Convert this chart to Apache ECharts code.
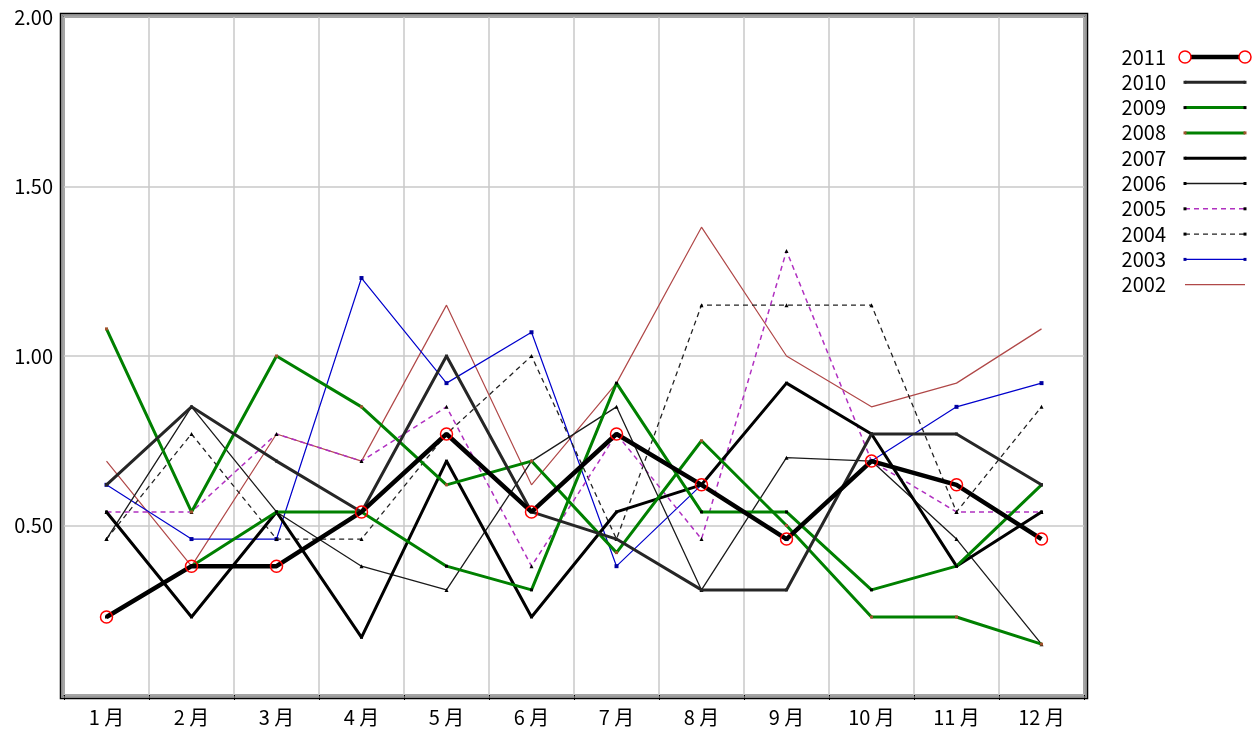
<!DOCTYPE html>
<html>
<head>
<meta charset="utf-8">
<script src="https://cdn.jsdelivr.net/npm/echarts@6/dist/echarts.min.js"></script>
<style>
html,body{margin:0;padding:0;background:#fff;}
#chart{width:1259px;height:735px;}
</style>
</head>
<body>
<div id="chart"></div>
<script>
const months = ['1月','2月','3月','4月','5月','6月','7月','8月','9月','10月','11月','12月'];
const yTicks = [0, 0.5, 1.0, 1.5, 2.0];

const d2011 = [0.23, 0.38, 0.38, 0.54, 0.77, 0.54, 0.77, 0.62, 0.46, 0.69, 0.62, 0.46];
const d2010 = [0.62, 0.85, 0.69, 0.54, 1.00, 0.54, 0.46, 0.31, 0.31, 0.77, 0.77, 0.62];
const d2009 = [0.23, 0.38, 0.54, 0.54, 0.38, 0.31, 0.92, 0.54, 0.54, 0.31, 0.38, 0.62];
const d2008 = [1.08, 0.54, 1.00, 0.85, 0.62, 0.69, 0.42, 0.75, 0.50, 0.23, 0.23, 0.15];
const d2007 = [0.54, 0.23, 0.54, 0.17, 0.69, 0.23, 0.54, 0.62, 0.92, 0.77, 0.38, 0.54];
const d2006 = [0.46, 0.85, 0.54, 0.38, 0.31, 0.69, 0.85, 0.31, 0.70, 0.69, 0.46, 0.15];
const d2005 = [0.54, 0.54, 0.77, 0.69, 0.85, 0.38, 0.77, 0.46, 1.31, 0.69, 0.54, 0.54];
const d2004 = [0.46, 0.77, 0.46, 0.46, 0.77, 1.00, 0.46, 1.15, 1.15, 1.15, 0.54, 0.85];
const d2003 = [0.62, 0.46, 0.46, 1.23, 0.92, 1.07, 0.38, 0.62, 0.46, 0.69, 0.85, 0.92];
const d2002 = [0.69, 0.38, 0.77, 0.69, 1.15, 0.62, 0.92, 1.38, 1.00, 0.85, 0.92, 1.08];

const FONT = '"Noto Sans CJK JP", "DejaVu Sans Mono", monospace';

const defs = [
  {name:'2011', data:d2011, color:'#000000', width:4.5, dash:'solid', symbol:'circle',   size:12, sym:'#ff0000', ring:true},
  {name:'2010', data:d2010, color:'#262626', width:3,   dash:'solid', symbol:'rect',     size:3,  sym:'#262626'},
  {name:'2009', data:d2009, color:'#008000', width:3,   dash:'solid', symbol:'rect',     size:3,  sym:'#000000'},
  {name:'2008', data:d2008, color:'#008000', width:3,   dash:'solid', symbol:'rect',     size:3,  sym:'#a0522d'},
  {name:'2007', data:d2007, color:'#000000', width:3,   dash:'solid', symbol:'rect',     size:3,  sym:'#000000'},
  {name:'2006', data:d2006, color:'#1a1a1a', width:1.3, dash:'solid', symbol:'triangle', size:4,  sym:'#000000'},
  {name:'2005', data:d2005, color:'#b030c0', width:1.5, dash:[5,4],   symbol:'triangle', size:4,  sym:'#000000'},
  {name:'2004', data:d2004, color:'#222222', width:1.3, dash:[5,4],   symbol:'triangle', size:4,  sym:'#000000'},
  {name:'2003', data:d2003, color:'#0000cc', width:1.2, dash:'solid', symbol:'rect',     size:4,  sym:'#0000a0'},
  {name:'2002', data:d2002, color:'#b04848', width:1.2, dash:'solid', symbol:'none',     size:0,  sym:'#b04848'}
];

const GL = 64, GT = 17, GW = 1020, GH = 678;

const series = defs.slice().reverse().map((d, i) => ({
  name: d.name,
  type: 'line',
  data: d.data,
  z: 2 + i,
  symbol: d.symbol,
  symbolSize: d.size,
  showSymbol: d.symbol !== 'none',
  lineStyle: {color: d.color, width: d.width, type: d.dash},
  itemStyle: d.ring
    ? {color: 'rgba(0,0,0,0)', borderColor: d.sym, borderWidth: 1.5}
    : {color: d.sym, borderWidth: 0},
  emphasis: {disabled: true},
  animation: false
}));

// legend built as graphics
const graphics = [];
const LX_TEXT = 1166, LX1 = 1185, LX2 = 1245, LY0 = 57, LDY = 25.3;
defs.forEach((d, i) => {
  const y = LY0 + i * LDY;
  graphics.push({type:'text', x: LX_TEXT, y: y,
    style:{text: d.name, fill:'#000', font: '20px ' + FONT, textAlign:'right', textVerticalAlign:'middle'}});
  graphics.push({type:'line', shape:{x1:LX1, y1:y, x2:LX2, y2:y},
    style:{stroke:d.color, lineWidth:d.width, lineDash: Array.isArray(d.dash) ? d.dash : null}});
  if (d.ring) {
    [LX1, LX2].forEach(x => graphics.push({type:'circle', shape:{cx:x, cy:y, r:6},
      style:{fill:'#fff', stroke:d.sym, lineWidth:1.5}, z:10}));
  } else if (d.symbol !== 'none') {
    [LX1, LX2].forEach(x => graphics.push({type:'rect', shape:{x:x-1.5, y:y-1.5, width:3, height:3},
      style:{fill:d.sym}, z:10}));
  }
});
// frame (sunken double border)
graphics.push({type:'rect', shape:{x:GL-3.5, y:GT-3.5, width:GW+7, height:GH+7},
  style:{fill:'none', stroke:'#000', lineWidth:1.5}, z:50});
graphics.push({type:'rect', shape:{x:GL-2, y:GT-2, width:GW+4, height:GH+4},
  style:{fill:'none', stroke:'#7a7a7a', lineWidth:1.5}, z:50});

const chart = echarts.init(document.getElementById('chart'), null, {renderer:'canvas'});
chart.setOption({
  backgroundColor: '#fff',
  animation: false,
  grid: {left: GL, top: GT, width: GW, height: GH, show: true, borderColor: '#000', borderWidth: 1.5, backgroundColor: '#fff', z: 0},
  xAxis: {
    type: 'category',
    data: months,
    boundaryGap: true,
    axisLine: {show: false},
    axisTick: {show: true, length: 5, lineStyle: {color: '#000', width: 1}},
    splitLine: {show: true, lineStyle: {color: '#c8c8c8', width: 1.5}},
    axisLabel: {
      color: '#000', fontFamily: FONT, fontSize: 20, margin: 12,
      formatter: v => v.replace('月', ' 月')
    }
  },
  yAxis: {
    type: 'value',
    min: yTicks[0], max: yTicks[yTicks.length - 1], interval: 0.5,
    axisLine: {show: false},
    axisTick: {show: false},
    splitLine: {show: true, lineStyle: {color: '#c8c8c8', width: 1.5}},
    axisLabel: {
      color: '#000', fontFamily: FONT, fontSize: 20, margin: 11,
      showMinLabel: false,
      formatter: v => v.toFixed(2)
    }
  },
  series: series,
  graphic: graphics
});
</script>
</body>
</html>
